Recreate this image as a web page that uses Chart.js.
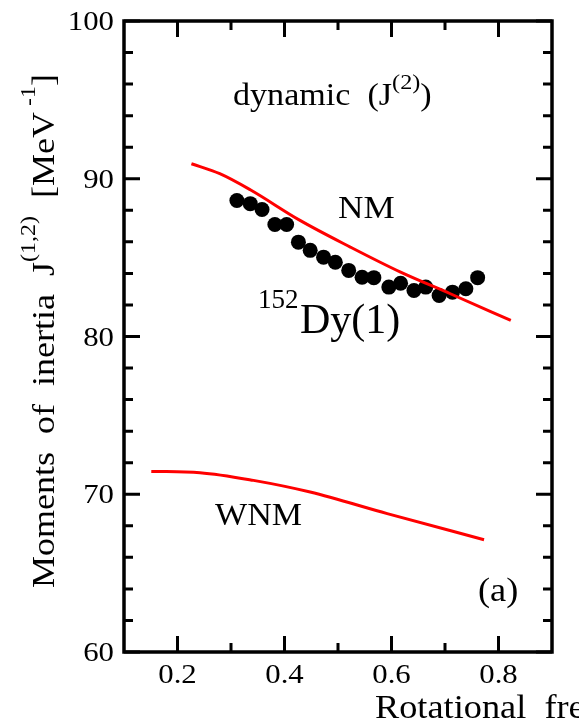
<!DOCTYPE html>
<html><head><meta charset="utf-8">
<script src="https://cdn.jsdelivr.net/npm/chart.js@4/dist/chart.umd.min.js"></script>
<style>html,body{margin:0;padding:0;background:#fff;overflow:hidden}#wrap{width:579px;height:724px}</style>
</head><body><div id="wrap"><canvas id="c" width="579" height="724"></canvas></div>
<script>
// ---- data ----
const xTickValues = [0.2, 0.4, 0.6, 0.8];
const xTickLabels = ['0.2', '0.4', '0.6', '0.8'];
const xMinorTicks = [0.3, 0.5, 0.7];
const yTickValues = [60, 70, 80, 90, 100];
const yTickLabels = ['60', '70', '80', '90', '100'];
const yMinorTicks = [62, 64, 66, 68, 72, 74, 76, 78, 82, 84, 86, 88, 92, 94, 96, 98];

const nmX = [0.226, 0.279, 0.336, 0.429, 0.523, 0.617, 0.710, 0.823];
const nmY = [90.95, 90.32, 89.30, 87.36, 85.67, 84.08, 82.71, 81.02];

const wnmX = [0.151, 0.242, 0.342, 0.448, 0.592, 0.773];
const wnmY = [71.45, 71.37, 70.88, 70.14, 68.77, 67.12];

const dyX = [0.311, 0.336, 0.358, 0.382, 0.404, 0.426, 0.448, 0.473, 0.495, 0.520,
             0.545, 0.567, 0.595, 0.617, 0.642, 0.664, 0.689, 0.714, 0.739, 0.761];
const dyY = [88.62, 88.42, 88.05, 87.10, 87.10, 85.98, 85.46, 85.03, 84.71, 84.19,
             83.76, 83.73, 83.13, 83.38, 82.92, 83.13, 82.60, 82.81, 83.03, 83.73];

const toPts = (xs, ys) => xs.map((x, i) => ({x: x, y: ys[i]}));

const FONT = '"Liberation Serif", "Times New Roman", serif';
const SX = 1.1;

function seg(ctx, parts, x, y, sx, sy) {
  // parts: [text, size, dy]
  sy = sy || 1;
  let cx = x;
  for (const [t, size, dy] of parts) {
    ctx.save();
    ctx.font = size + 'px ' + FONT;
    ctx.translate(cx, y + (dy || 0));
    ctx.scale(sx, sy);
    ctx.textAlign = 'left';
    ctx.textBaseline = 'alphabetic';
    ctx.fillStyle = '#000';
    ctx.fillText(t, 0, 0);
    cx += ctx.measureText(t).width * sx;
    ctx.restore();
  }
  return cx;
}

const decor = {
  id: 'decor',
  afterDraw(chart) {
    const ctx = chart.ctx;
    const a = chart.chartArea;
    const xs = chart.scales.x, ys = chart.scales.y;
    ctx.save();
    ctx.strokeStyle = '#000';
    ctx.lineCap = 'butt';
    // ticks
    ctx.lineWidth = 3;
    const MAJ = 16, MIN = 9;
    const vt = (v, len) => {
      const px = xs.getPixelForValue(v);
      ctx.beginPath();
      ctx.moveTo(px, a.bottom); ctx.lineTo(px, a.bottom - len);
      ctx.moveTo(px, a.top); ctx.lineTo(px, a.top + len);
      ctx.stroke();
    };
    const ht = (v, len) => {
      const py = ys.getPixelForValue(v);
      ctx.beginPath();
      ctx.moveTo(a.left, py); ctx.lineTo(a.left + len, py);
      ctx.moveTo(a.right, py); ctx.lineTo(a.right - len, py);
      ctx.stroke();
    };
    xTickValues.forEach(v => vt(v, MAJ));
    xMinorTicks.forEach(v => vt(v, MIN));
    yTickValues.forEach(v => ht(v, MAJ));
    yMinorTicks.forEach(v => ht(v, MIN));
    // frame
    ctx.lineWidth = 3.5;
    ctx.strokeRect(a.left, a.top, a.right - a.left, a.bottom - a.top);

    // tick labels
    ctx.fillStyle = '#000';
    xTickValues.forEach((v, i) => {
      const px = xs.getPixelForValue(v);
      ctx.save();
      ctx.font = '28px ' + FONT;
      ctx.translate(px, a.bottom + 31);
      ctx.scale(SX, 1);
      ctx.textAlign = 'center';
      ctx.fillText(xTickLabels[i], 0, 0);
      ctx.restore();
    });
    yTickValues.forEach((v, i) => {
      const py = ys.getPixelForValue(v);
      ctx.save();
      ctx.font = '28px ' + FONT;
      ctx.translate(a.left - 10, py + 9);
      ctx.scale(SX, 1);
      ctx.textAlign = 'right';
      ctx.fillText(yTickLabels[i], 0, 0);
      ctx.restore();
    });

    // annotations
    seg(ctx, [['dynamic  (J', 31, 0], ['(2)', 22, -16], [')', 31, 0]], 233, 105, SX);
    seg(ctx, [['NM', 32, 0]], 338, 218, SX);
    seg(ctx, [['WNM', 31, 0]], 215, 525, SX);
    seg(ctx, [['(a)', 33, 0]], 478, 601, SX);
    seg(ctx, [['152', 27, 0]], 258, 308, 1.0);
    seg(ctx, [['Dy(1)', 42, 0]], 300, 333, 1.0);

    // x title (clipped by canvas edge as in original)
    seg(ctx, [['Rotational  frequency  ħω  [MeV]', 33, 0]], 375, 718, SX);

    // y title, rotated
    ctx.save();
    ctx.translate(54, 588);
    ctx.rotate(-Math.PI / 2);
    seg(ctx, [['Moments  of  inertia  J', 36, 0], ['(1,2)', 24, -19], ['  [MeV', 36, 0], [' -1', 24, -19], [']', 36, 0]], 0, 0, 1.0, 0.88);
    ctx.restore();

    ctx.restore();
  }
};

new Chart(document.getElementById('c'), {
  type: 'scatter',
  data: {
    datasets: [
      { label: 'NM', data: toPts(nmX, nmY), showLine: true, borderColor: '#ff0000', borderWidth: 3, pointRadius: 0, cubicInterpolationMode: 'monotone', fill: false },
      { label: 'WNM', data: toPts(wnmX, wnmY), showLine: true, borderColor: '#ff0000', borderWidth: 3, pointRadius: 0, cubicInterpolationMode: 'monotone', fill: false },
      { label: '152Dy(1)', data: toPts(dyX, dyY), showLine: false, pointRadius: 7.5, pointBackgroundColor: '#000', pointBorderColor: '#000', pointBorderWidth: 0 }
    ]
  },
  options: {
    responsive: false,
    animation: false,
    devicePixelRatio: 1,
    layout: { padding: { left: 124, right: 27, top: 21, bottom: 72 } },
    plugins: { legend: { display: false }, tooltip: { enabled: false } },
    scales: {
      x: { type: 'linear', min: 0.1, max: 0.9, display: false },
      y: { type: 'linear', min: 60, max: 100, display: false }
    }
  },
  plugins: [decor]
});
</script>
</body></html>
